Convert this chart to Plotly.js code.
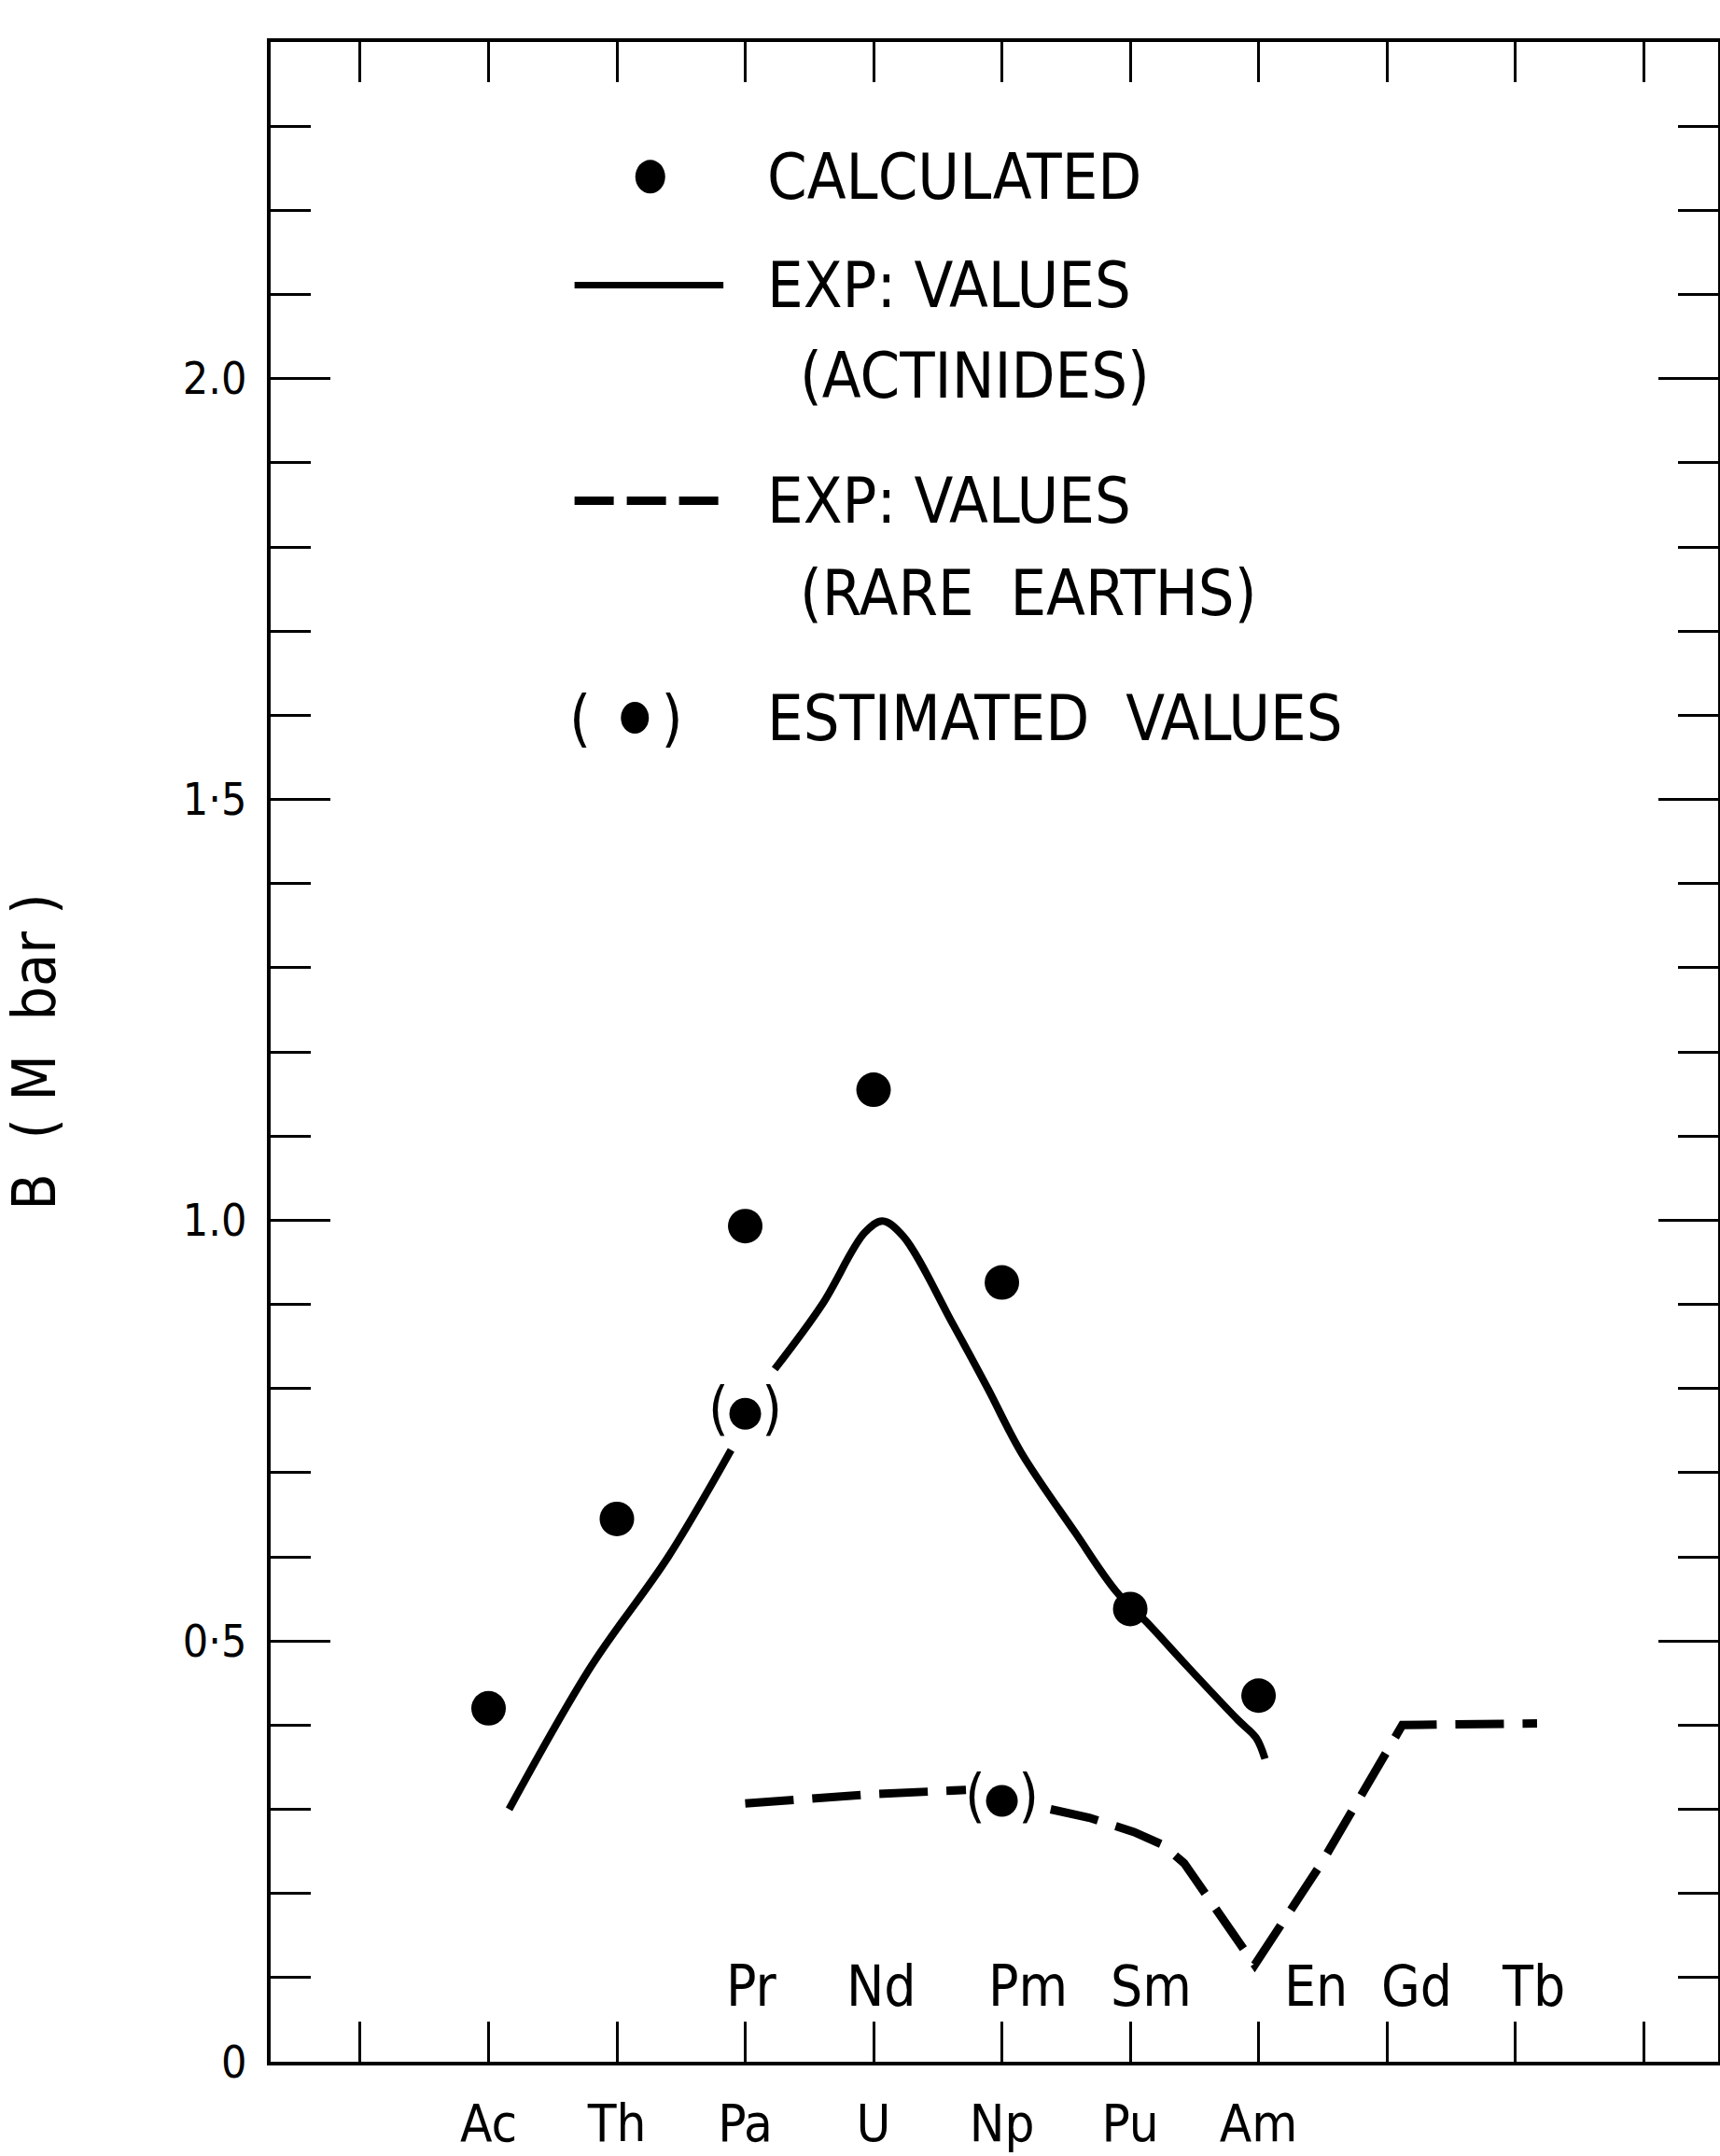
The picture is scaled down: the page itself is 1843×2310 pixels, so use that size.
<!DOCTYPE html>
<html><head><meta charset="utf-8">
<script src="https://cdn.plot.ly/plotly-3.0.1.min.js"></script>
<style>html,body{margin:0;padding:0;background:#fff}</style>
</head><body><div id="chart" style="width:1843px;height:2310px"></div>
<script>
// ---- data (x = element position index along the axis) ----
const actinides = ['Ac','Th','Pa','U','Np','Pu','Am'];
const actinidePos = [1,2,3,4,5,6,7];
const rareEarths = ['Pr','Nd','Pm','Sm','En','Gd','Tb'];
const rareEarthPos = [3,4,5,6,7,8,9];

const calculatedB = [0.42, 0.645, 0.993, 1.155, 0.926, 0.538, 0.435];

const expActinidesX = [1.16,1.8,2.4,2.89,null,3.23,3.6,3.93,4.07,4.23,4.62,4.89,5.15,5.57,5.89,6.13,6.45,6.84,6.98,7.05];
const expActinidesB = [0.30,0.47,0.60,0.727,null,0.823,0.90,0.985,0.999,0.981,0.876,0.80,0.724,0.629,0.559,0.522,0.469,0.406,0.385,0.36];

const expRareEarthX = [3.0,3.5,4.0,4.72,null,5.38,5.68,6.03,6.25,6.42,6.97,7.49,7.97,8.12,9.17];
const expRareEarthB = [0.307,0.313,0.318,0.323,null,0.30,0.29,0.273,0.258,0.236,0.115,0.236,0.363,0.40,0.402];

const estimatedX = [3,5];
const estimatedB = [0.77,0.31];

const yTickVals = [0,0.5,1.0,1.5,2.0];
const yTickText = ['0','0\u00B75','1.0','1\u00B75','2.0'];

// ---- styling / layout ----
const FONT = 'DejaVu Sans Condensed, Liberation Sans Narrow, DejaVu Sans, sans-serif';
const BLACK = '#000';
const reLabelShift = [0.05,0.06,0.2,0.16,0.45,0.23,0.14];

const xTickVals = [0,1,2,3,4,5,6,7,8,9,10];
const xTickText = xTickVals.map(v => {
  const i = actinidePos.indexOf(v);
  return i >= 0 ? actinides[i] : '';
});

const traces = [
  {x: expActinidesX, y: expActinidesB, mode:'lines', connectgaps:false,
   line:{color:BLACK, width:8, shape:'spline', smoothing:1}, hoverinfo:'skip', showlegend:false},
  {x: expRareEarthX, y: expRareEarthB, mode:'lines', connectgaps:false,
   line:{color:BLACK, width:9, dash:'52px,20px'}, hoverinfo:'skip', showlegend:false},
  {x: actinidePos, y: calculatedB, mode:'markers',
   marker:{color:BLACK, size:37, line:{width:0}}, showlegend:false},
  {x: estimatedX, y: estimatedB, mode:'markers+text',
   text: estimatedX.map(() => '(\u00A0\u00A0)'), textposition:'middle center',
   textfont:{family:FONT, size:62, color:BLACK},
   marker:{color:BLACK, size:34, line:{width:0}}, showlegend:false}
];

const annotations = [];
rareEarths.forEach((name, i) => {
  annotations.push({x: rareEarthPos[i] + reLabelShift[i], y: 0.09, xref:'x', yref:'y',
    text: name, showarrow:false, xanchor:'center', yanchor:'middle',
    font:{family:FONT, size:60, color:BLACK}});
});
const legFont = {family:FONT, size:68, color:BLACK};
function legText(t, x, y) {
  annotations.push({x:x, y:y, xref:'x', yref:'y', text:t, showarrow:false,
    xanchor:'left', yanchor:'middle', font:legFont});
}
legText('CALCULATED', 3.154, 2.24);
legText('EXP:\u00A0VALUES', 3.154, 2.111);
legText('(ACTINIDES)', 3.41, 2.004);
legText('EXP:\u00A0VALUES', 3.154, 1.855);
legText('(RARE\u00A0\u00A0EARTHS)', 3.41, 1.745);
legText('ESTIMATED\u00A0\u00A0VALUES', 3.154, 1.597);
annotations.push({x:2.07, y:1.597, xref:'x', yref:'y', text:'(\u00A0\u00A0\u00A0\u00A0)', showarrow:false,
  xanchor:'center', yanchor:'middle', font:{family:FONT, size:66, color:BLACK}});

const shapes = [
  {type:'circle', xref:'x', yref:'y', xsizemode:'pixel', ysizemode:'pixel',
   xanchor:2.26, yanchor:2.24, x0:-16, x1:16, y0:-18, y1:18,
   fillcolor:BLACK, line:{width:0}},
  {type:'line', xref:'x', yref:'y', x0:1.67, x1:2.83, y0:2.111, y1:2.111,
   line:{color:BLACK, width:7}},
  {type:'line', xref:'x', yref:'y', x0:1.67, x1:2.83, y0:1.855, y1:1.855,
   line:{color:BLACK, width:9, dash:'42px,14px'}},
  {type:'circle', xref:'x', yref:'y', xsizemode:'pixel', ysizemode:'pixel',
   xanchor:2.14, yanchor:1.597, x0:-15, x1:15, y0:-17, y1:17,
   fillcolor:BLACK, line:{width:0}}
];

const layout = {
  width:1843, height:2310,
  margin:{l:290, r:2, t:45, b:101},
  paper_bgcolor:'#fff', plot_bgcolor:'#fff',
  showlegend:false,
  font:{family:FONT, color:BLACK},
  xaxis:{range:[-0.698,10.581], tickmode:'array', tickvals:xTickVals, ticktext:xTickText,
    ticks:'inside', ticklen:43, tickwidth:3, tickcolor:BLACK,
    showline:true, linewidth:4, linecolor:BLACK, mirror:'ticks',
    showgrid:false, zeroline:false, ticklabelstandoff:14,
    tickfont:{family:FONT, size:56, color:BLACK}},
  yaxis:{range:[0,2.4], tickmode:'array', tickvals:yTickVals, ticktext:yTickText,
    ticks:'inside', ticklen:64, tickwidth:3, tickcolor:BLACK,
    minor:{dtick:0.1, tick0:0, ticks:'inside', ticklen:43, tickwidth:3, tickcolor:BLACK},
    showline:true, linewidth:4, linecolor:BLACK, mirror:'ticks',
    showgrid:false, zeroline:false, ticklabelstandoff:12,
    tickfont:{family:FONT, size:48, color:BLACK}},
  annotations: annotations,
  shapes: shapes
};
layout.yaxis.title = {text:'B\u00A0\u00A0(\u00A0M\u00A0\u00A0bar\u00A0)', font:{family:FONT, size:64, color:BLACK}, standoff:128};

Plotly.newPlot('chart', traces, layout, {staticPlot:true, displayModeBar:false});
</script>
</body></html>
